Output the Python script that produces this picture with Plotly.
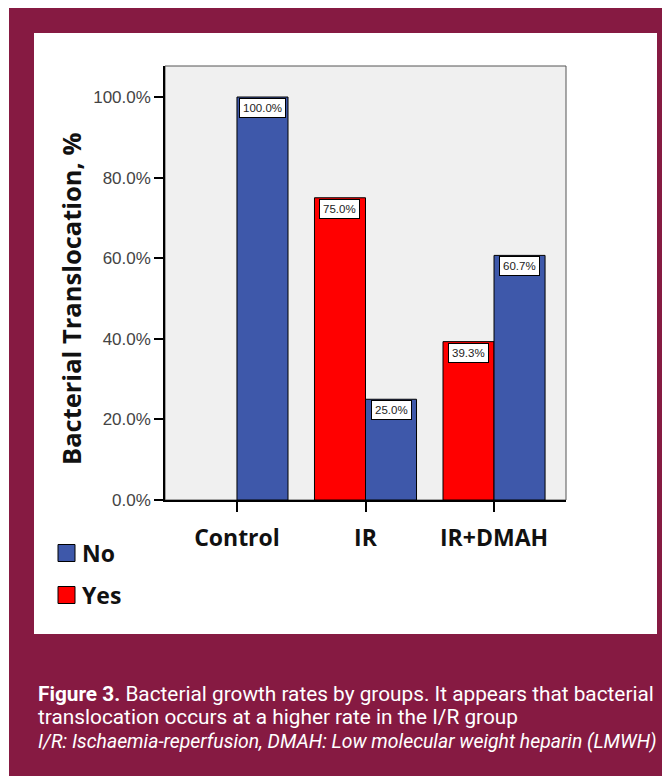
import plotly.graph_objects as go

categories = ["Control", "IR", "IR+DMAH"]
yes_values = [None, 75.0, 39.3]
no_values = [100.0, 25.0, 60.7]
y_ticks = [0, 20, 40, 60, 80, 100]
y_tick_labels = ["0.0%", "20.0%", "40.0%", "60.0%", "80.0%", "100.0%"]

BLUE = "#3E58AA"
RED = "#FF0000"
MAROON = "#861A42"

OFF = 8  # page body margin: reference pixel -> figure pixel
W, H = 670 - OFF, 776 - OFF
L, R, T, B = 165 - OFF, 566 - OFF, 66 - OFF, 500 - OFF
BARGAP = 0.206
BOLD = "Open Sans, Lato, sans-serif"

def px_x(px):
    return (px - OFF - L) / (R - L)

def px_y(py):
    return (B - (py - OFF)) / (B - T)

fig = go.Figure()
fig.add_trace(go.Bar(name="Yes", x=categories, y=yes_values, marker=dict(color=RED, line=dict(color="#000000", width=1))))
fig.add_trace(go.Bar(name="No", x=categories, y=no_values, marker=dict(color=BLUE, line=dict(color="#000000", width=1))))

half = (1 - BARGAP) / 4
annotations = []
for i, cat in enumerate(categories):
    for vals, off in ((yes_values, -half), (no_values, half)):
        v = vals[i]
        if v is None:
            continue
        annotations.append(dict(
            x=i + off, y=v, xref="x", yref="y", text=f"{v:.1f}%", showarrow=False,
            yanchor="top", yshift=-1, font=dict(family="Liberation Sans, Arial", size=11.5, color="#222222"),
            bgcolor="#FFFFFF", bordercolor="#000000", borderwidth=1, borderpad=3))

# axis title
annotations.append(dict(x=px_x(71), y=px_y(299), xref="paper", yref="paper", text="<b>Bacterial Translocation, %</b>",
                        textangle=-90, showarrow=False, xanchor="center", yanchor="middle",
                        font=dict(family=BOLD, size=25.5, color="#111111")))
# legend (manual)
legend_items = [("No", BLUE, 553), ("Yes", RED, 595)]
shapes = [
    dict(type="rect", xref="paper", yref="paper", x0=px_x(9), x1=px_x(680), y0=px_y(790), y1=px_y(8),
         fillcolor=MAROON, line=dict(width=0), layer="below"),
    dict(type="rect", xref="paper", yref="paper", x0=px_x(34), x1=px_x(657), y0=px_y(634), y1=px_y(33),
         fillcolor="#FFFFFF", line=dict(width=0), layer="below"),
    dict(type="rect", xref="paper", yref="paper", x0=0, x1=1, y0=0, y1=1,
         fillcolor="#F0F0F0", line=dict(color="#555555", width=1), layer="below"),
]
for name, col, cy in legend_items:
    shapes.append(dict(type="rect", xref="paper", yref="paper", x0=px_x(58), x1=px_x(75), y0=px_y(cy + 8.5), y1=px_y(cy - 8.5),
                       fillcolor=col, line=dict(color="#000000", width=1)))
    annotations.append(dict(x=px_x(80), y=px_y(cy), xref="paper", yref="paper", text=f"<b>{name}</b>", showarrow=False,
                            xanchor="left", yanchor="middle", font=dict(family=BOLD, size=23, color="#111111")))

# caption
cap_font = "Roboto, sans-serif"
caption = [
    ("<b>Figure 3.</b> Bacterial growth rates by groups. It appears that bacterial", 694, 20.8),
    ("translocation occurs at a higher rate in the I/R group", 717, 20.8),
    ("<i>I/R: Ischaemia-reperfusion, DMAH: Low molecular weight heparin (LMWH)</i>", 741, 19.4),
]
for txt, cy, fs in caption:
    annotations.append(dict(x=px_x(36), y=px_y(cy), xref="paper", yref="paper", text=txt, showarrow=False,
                            xanchor="left", yanchor="middle", font=dict(family=cap_font, size=fs, color="#FFFFFF")))

fig.update_layout(
    width=W, height=H, barmode="group", bargap=BARGAP, bargroupgap=0,
    margin=dict(l=L, r=W - R, t=T, b=H - B, pad=0),
    paper_bgcolor="#FFFFFF", plot_bgcolor="rgba(0,0,0,0)",
    showlegend=False, shapes=shapes, annotations=annotations,
    xaxis=dict(range=[-0.56, 2.56], showline=True, linecolor="#000000", linewidth=1.5, ticks="outside", ticklen=10,
               tickcolor="#000000", tickwidth=1.5, showgrid=False, zeroline=False,
               tickfont=dict(family=BOLD, size=23, color="#111111"),
               tickprefix="<b>", ticksuffix="</b>", ticklabelstandoff=7),
    yaxis=dict(range=[0, 107.7], tickvals=y_ticks, ticktext=y_tick_labels, showline=True, linecolor="#000000", linewidth=1.5,
               ticks="outside", ticklen=9, tickcolor="#000000", tickwidth=1.5, showgrid=False, zeroline=False,
               tickfont=dict(family="Liberation Sans, Arial, sans-serif", size=17, color="#444444")),
)

fig.write_html("out.html")
